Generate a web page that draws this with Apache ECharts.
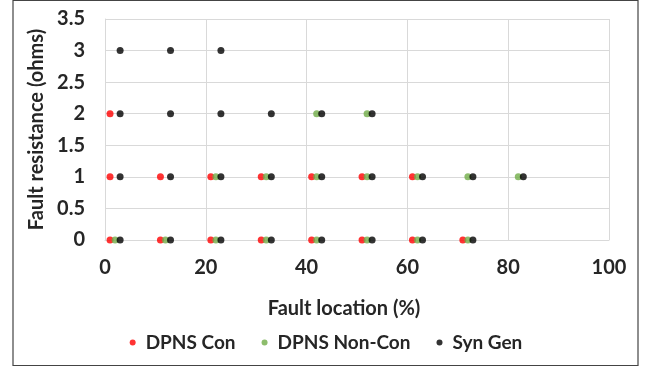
<!DOCTYPE html>
<html><head><meta charset="utf-8">
<script src="https://cdn.jsdelivr.net/npm/echarts@6/dist/echarts.min.js"></script>
<style>html,body{margin:0;padding:0;background:#fff}#c{width:652px;height:367px}</style>
</head><body><div id="c"></div>
<script>
const seriesNames = ['DPNS Con', 'DPNS Non-Con', 'Syn Gen'];
const dpnsConX = [1, 11, 21, 31, 41, 51, 61, 71, 1, 11, 21, 31, 41, 51, 61, 1];
const dpnsConY = [0, 0, 0, 0, 0, 0, 0, 0, 1, 1, 1, 1, 1, 1, 1, 2];
const dpnsNonConX = [2, 12, 22, 32, 42, 52, 62, 72, 22, 32, 42, 52, 62, 72, 82, 42, 52];
const dpnsNonConY = [0, 0, 0, 0, 0, 0, 0, 0, 1, 1, 1, 1, 1, 1, 1, 2, 2];
const synGenX = [3, 13, 23, 33, 43, 53, 63, 73, 3, 13, 23, 33, 43, 53, 63, 73, 83, 3, 13, 23, 33, 43, 53, 3, 13, 23];
const synGenY = [0, 0, 0, 0, 0, 0, 0, 0, 1, 1, 1, 1, 1, 1, 1, 1, 1, 2, 2, 2, 2, 2, 2, 3, 3, 3];
const colors = ['#ff0000', '#70ad47', '#000000'];

const zip = (xs, ys) => xs.map((x, i) => [x, ys[i]]);
const font = 'Lato, "Open Sans", sans-serif';
const txt = {fontFamily: font, fontWeight: 'bold', fontSize: 20, color: '#262626'};
const chart = echarts.init(document.getElementById('c'), null, {renderer: 'canvas'});
chart.setOption({
  animation: false,
  graphic: [{type: 'rect', shape: {x: 13, y: 0.5, width: 625, height: 365}, style: {fill: 'none', stroke: '#444', lineWidth: 1.2}, z: 100}],
  grid: {left: 105, right: 43, top: 19, bottom: 127, containLabel: false},
  legend: {
    data: seriesNames, top: 328, left: 'center', itemWidth: 6, itemHeight: 6, itemGap: 26, icon: 'circle',
    textStyle: Object.assign({}, txt, {fontSize: 19, padding: [0, 0, 0, 5]})
  },
  xAxis: {
    type: 'value', min: 0, max: 100, interval: 20,
    name: 'Fault location (%)', nameLocation: 'middle', nameGap: 59,
    nameTextStyle: Object.assign({padding: [0, 26, 0, 0]}, txt),
    axisLine: {show: true, lineStyle: {color: '#d9d9d9'}}, axisTick: {show: false},
    axisLabel: Object.assign({margin: 18}, txt),
    splitLine: {show: true, lineStyle: {color: '#d9d9d9'}}
  },
  yAxis: {
    type: 'value', min: 0, max: 3.5, interval: 0.5,
    name: 'Fault resistance (ohms)', nameLocation: 'middle', nameGap: 52,
    nameTextStyle: txt,
    axisLine: {show: true, lineStyle: {color: '#d9d9d9'}}, axisTick: {show: false},
    axisLabel: Object.assign({margin: 20}, txt),
    splitLine: {show: true, lineStyle: {color: '#d9d9d9'}}
  },
  series: [
    {name: seriesNames[0], type: 'scatter', data: zip(dpnsConX, dpnsConY), symbolSize: 7, itemStyle: {color: colors[0]}},
    {name: seriesNames[1], type: 'scatter', data: zip(dpnsNonConX, dpnsNonConY), symbolSize: 7, itemStyle: {color: colors[1]}},
    {name: seriesNames[2], type: 'scatter', data: zip(synGenX, synGenY), symbolSize: 7, itemStyle: {color: colors[2]}}
  ]
});
</script></body></html>
